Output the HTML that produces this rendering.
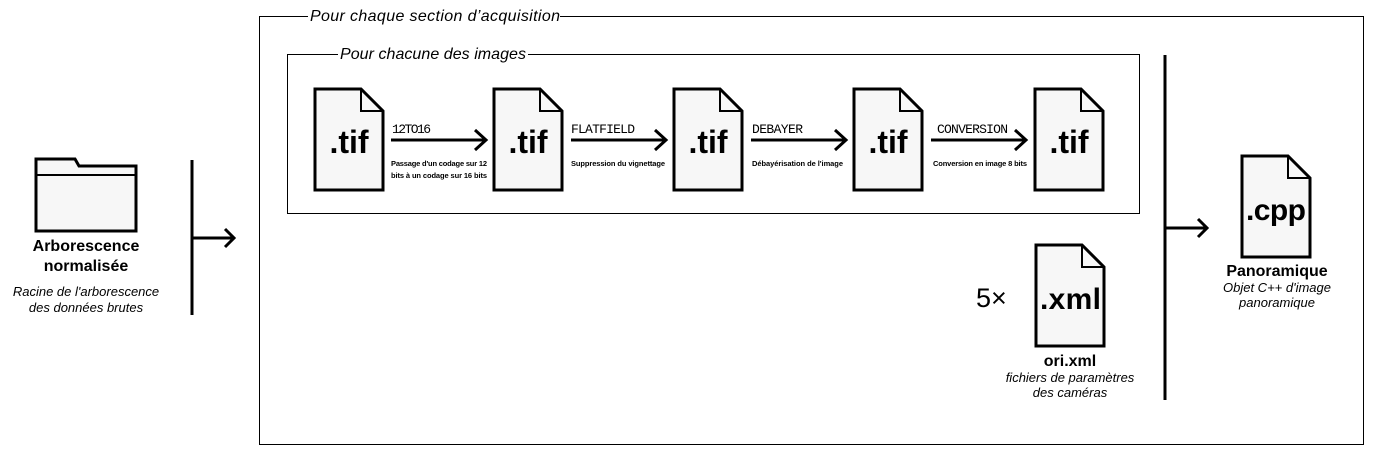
<!DOCTYPE html>
<html><head><meta charset="utf-8"><style>
html,body{margin:0;padding:0;background:#fff;}
svg{display:block;}
text{font-family:"Liberation Sans","DejaVu Sans",sans-serif;fill:#000;}
.mono{font-family:"Liberation Mono",monospace;font-size:13px;}
.small{font-size:7.5px;font-weight:bold;}
.ext{font-size:32px;font-weight:bold;}
.it{font-style:italic;}
</style></head><body>
<svg width="1377" height="454" viewBox="0 0 1377 454" xmlns="http://www.w3.org/2000/svg">
<defs>
<g id="file">
<path d="M0 0 H46 L68 22 V101 H0 Z" fill="#f7f7f7" stroke="#000" stroke-width="3" stroke-linejoin="miter"/>
<path d="M46 0 V22 H68" fill="none" stroke="#000" stroke-width="2"/>
</g>
<g id="arr"><path d="M0 0 H94 M84 -10 L95 0 L84 10" fill="none" stroke="#000" stroke-width="3"/></g>
</defs>
<rect x="259.5" y="16.5" width="1104" height="428" fill="none" stroke="#000" stroke-width="1"/>
<rect x="308" y="6" width="252" height="20" fill="#fff"/>
<text x="310" y="21" class="it" font-size="16" textLength="250">Pour chaque section d’acquisition</text>
<rect x="287.5" y="54.5" width="852" height="159" fill="none" stroke="#000" stroke-width="1"/>
<rect x="338" y="44" width="190" height="20" fill="#fff"/>
<text x="340" y="59" class="it" font-size="16" textLength="186">Pour chacune des images</text>
<g transform="translate(315,89)"><use href="#file"/><text x="34" y="64" class="ext" text-anchor="middle">.tif</text></g>
<g transform="translate(494,89)"><use href="#file"/><text x="34" y="64" class="ext" text-anchor="middle">.tif</text></g>
<g transform="translate(674,89)"><use href="#file"/><text x="34" y="64" class="ext" text-anchor="middle">.tif</text></g>
<g transform="translate(854,89)"><use href="#file"/><text x="34" y="64" class="ext" text-anchor="middle">.tif</text></g>
<g transform="translate(1035,89)"><use href="#file"/><text x="34" y="64" class="ext" text-anchor="middle">.tif</text></g>
<g transform="translate(391,140)"><use href="#arr"/></g>
<g transform="translate(571,140)"><use href="#arr"/></g>
<g transform="translate(751,140)"><use href="#arr"/></g>
<g transform="translate(931,140)"><use href="#arr"/></g>
<text x="392" y="133" class="mono" textLength="39">12TO16</text>
<text x="391" y="166" class="small" textLength="96">Passage d'un codage sur 12</text>
<text x="391" y="178" class="small" textLength="96">bits à un codage sur 16 bits</text>
<text x="571" y="133" class="mono" textLength="64">FLATFIELD</text>
<text x="571" y="166" class="small" textLength="94">Suppression du vignettage</text>
<text x="752" y="133" class="mono" textLength="51">DEBAYER</text>
<text x="752" y="166" class="small" textLength="91">Débayérisation de l'image</text>
<text x="937" y="133" class="mono" textLength="71">CONVERSION</text>
<text x="933" y="166" class="small" textLength="94">Conversion en image 8 bits</text>
<path d="M36 159 H75 L79 166 H136 V231 H36 Z" fill="#f7f7f7" stroke="#000" stroke-width="3"/>
<path d="M36 175 H136" stroke="#000" stroke-width="2"/>
<text x="86" y="251" font-size="16" font-weight="bold" text-anchor="middle">Arborescence</text>
<text x="86" y="271" font-size="16" font-weight="bold" text-anchor="middle">normalisée</text>
<text x="86" y="296" font-size="13" class="it" text-anchor="middle">Racine de l'arborescence</text>
<text x="86" y="312" font-size="13" class="it" text-anchor="middle">des données brutes</text>
<path d="M192 160 V315 M192 238 H233 M225 229 L234 238 L225 247" fill="none" stroke="#000" stroke-width="3"/>
<g transform="translate(1036,245)"><use href="#file"/><text x="4" y="64" font-size="30" font-weight="bold" textLength="61">.xml</text></g>
<text x="976" y="307" font-size="27" fill="#000">5×</text>
<text x="1070" y="366" font-size="16" font-weight="bold" text-anchor="middle">ori.xml</text>
<text x="1070" y="382" font-size="13" class="it" text-anchor="middle">fichiers de paramètres</text>
<text x="1070" y="397" font-size="13" class="it" text-anchor="middle">des caméras</text>
<path d="M1165 55 V400 M1165 228 H1206 M1198 219 L1207 228 L1198 237" fill="none" stroke="#000" stroke-width="3"/>
<g transform="translate(1242,156)"><use href="#file"/><text x="4" y="64" font-size="30" font-weight="bold" textLength="60">.cpp</text></g>
<text x="1277" y="276" font-size="16" font-weight="bold" text-anchor="middle">Panoramique</text>
<text x="1277" y="292" font-size="13" class="it" text-anchor="middle">Objet C++ d'image</text>
<text x="1277" y="307" font-size="13" class="it" text-anchor="middle">panoramique</text>
</svg>
</body></html>
